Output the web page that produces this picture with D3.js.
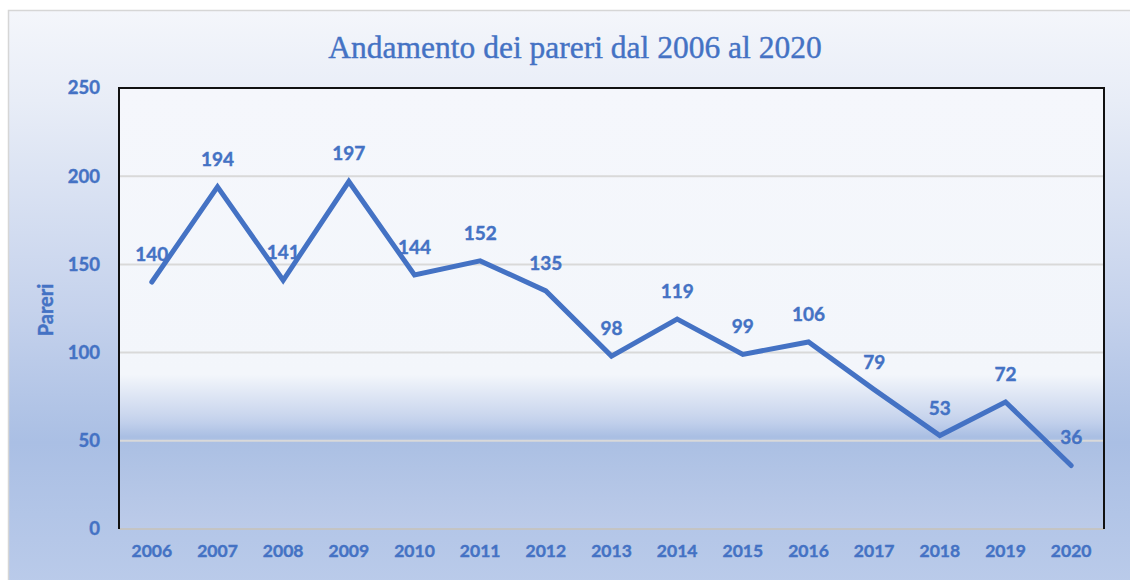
<!DOCTYPE html>
<html>
<head>
<meta charset="utf-8">
<script src="https://cdn.jsdelivr.net/npm/d3@7"></script>
<style>
  html, body { margin: 0; padding: 0; background: #ffffff; }
  svg { display: block; }
</style>
</head>
<body>
<svg id="chart" width="1130" height="580"></svg>
<script>
// data
const years = ["2006", "2007", "2008", "2009", "2010", "2011", "2012", "2013", "2014", "2015", "2016", "2017", "2018", "2019", "2020"];
const pareri = [140, 194, 141, 197, 144, 152, 135, 98, 119, 99, 106, 79, 53, 72, 36];
const yTicks = [0, 50, 100, 150, 200, 250];

const blue = "#4472c4";
const labelFont = "Lato, 'Open Sans', sans-serif";
const svg = d3.select("#chart");
const defs = svg.append("defs");

// outer background gradient
const bg = defs.append("linearGradient").attr("id", "bgGrad")
  .attr("x1", 0).attr("y1", 0).attr("x2", 0).attr("y2", 1);
[[0, "#f4f6fb"], [0.15, "#e8edf7"], [0.5, "#c5d2ec"], [0.72, "#aabfe4"], [1, "#bdcdeb"]]
  .forEach(s => bg.append("stop").attr("offset", s[0]).attr("stop-color", s[1]));

// plot area gradient
const pg = defs.append("linearGradient").attr("id", "plotGrad")
  .attr("x1", 0).attr("y1", 0).attr("x2", 0).attr("y2", 1);
[[0, "#f5f7fc"], [0.65, "#f3f6fb"], [0.74, "#cbd7ee"], [0.76, "#c0cfeb"], [0.79, "#aabfe3"], [1, "#bccbe9"]]
  .forEach(s => pg.append("stop").attr("offset", s[0]).attr("stop-color", s[1]));

svg.append("rect")
  .attr("x", 8.5).attr("y", 10.5).attr("width", 1140).attr("height", 600)
  .attr("fill", "url(#bgGrad)").attr("stroke", "#d6d6d6").attr("stroke-width", 1.5);

const margin = { top: 88, right: 26, bottom: 51, left: 119 };
const width = 1130 - margin.left - margin.right;
const height = 580 - margin.top - margin.bottom;

const x = d3.scaleBand().domain(years).range([0, width]);
const y = d3.scaleLinear().domain([0, 250]).range([height, 0]);

const g = svg.append("g").attr("transform", `translate(${margin.left},${margin.top})`);

g.append("rect").attr("width", width).attr("height", height).attr("fill", "url(#plotGrad)");

// gridlines
g.append("g").selectAll("line")
  .data(yTicks.filter(d => d > 0 && d < 250))
  .join("line")
  .attr("x1", 0).attr("x2", width)
  .attr("y1", d => y(d)).attr("y2", d => y(d))
  .attr("stroke", "#d9d9d9").attr("stroke-width", 2);

// bottom axis line
g.append("line")
  .attr("x1", 0).attr("x2", width).attr("y1", height).attr("y2", height)
  .attr("stroke", "#c4c4c4").attr("stroke-width", 2);

// plot border (top, left, right)
g.append("path")
  .attr("d", `M0,${height}V0H${width}V${height}`)
  .attr("fill", "none").attr("stroke", "#111").attr("stroke-width", 2);

// y axis labels
const yAxis = d3.axisLeft(y).tickValues(yTicks).tickSize(0).tickPadding(19);
g.append("g").call(yAxis)
  .call(a => a.select(".domain").remove())
  .selectAll("text")
  .attr("font-family", labelFont)
  .attr("font-weight", "bold").attr("font-size", 18.5).attr("fill", blue)
  .attr("stroke", blue).attr("stroke-width", 0.4);

// x axis labels
const xAxis = d3.axisBottom(x).tickSize(0).tickPadding(16);
g.append("g").attr("transform", `translate(0,${height})`).call(xAxis)
  .call(a => a.select(".domain").remove())
  .selectAll("text")
  .attr("font-family", labelFont)
  .attr("font-weight", "bold").attr("font-size", 17.5).attr("fill", blue)
  .attr("stroke", blue).attr("stroke-width", 0.4);

// line
const line = d3.line()
  .x((d, i) => x(years[i]) + x.bandwidth() / 2)
  .y(d => y(d));

g.append("path")
  .datum(pareri)
  .attr("d", line)
  .attr("fill", "none").attr("stroke", blue).attr("stroke-width", 5)
  .attr("stroke-linecap", "round").attr("stroke-linejoin", "miter");

// data labels
g.selectAll(".lbl")
  .data(pareri)
  .join("text")
  .attr("class", "lbl")
  .attr("x", (d, i) => x(years[i]) + x.bandwidth() / 2)
  .attr("y", d => y(d) - 21)
  .attr("text-anchor", "middle")
  .attr("font-family", labelFont)
  .attr("font-weight", "bold").attr("font-size", 19).attr("fill", blue)
  .attr("stroke", blue).attr("stroke-width", 0.4)
  .text(d => d);

// axis title
svg.append("text")
  .attr("transform", "translate(53,310) rotate(-90)")
  .attr("text-anchor", "middle")
  .attr("font-family", labelFont)
  .attr("font-weight", "bold").attr("font-size", 20).attr("fill", blue)
  .attr("stroke", blue).attr("stroke-width", 0.4)
  .text("Pareri");

// title
svg.append("text")
  .attr("x", 575).attr("y", 58)
  .attr("text-anchor", "middle")
  .attr("font-family", "'Liberation Serif', 'DejaVu Serif', serif")
  .attr("font-size", 31.5).attr("fill", blue)
  .attr("stroke", blue).attr("stroke-width", 0.4)
  .text("Andamento dei pareri dal 2006 al 2020");
</script>
</body>
</html>
